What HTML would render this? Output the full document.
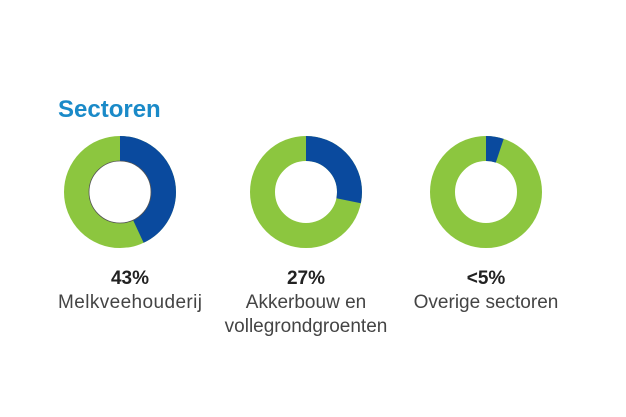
<!DOCTYPE html>
<html><head><meta charset="utf-8"><style>
body{margin:0;background:#fff;width:626px;height:417px;overflow:hidden;font-family:"Liberation Sans",sans-serif;}
svg{position:absolute;left:0;top:0}
</style></head><body>
<svg width="626" height="417" viewBox="0 0 626 417">
<text x="58" y="117" font-family="Liberation Sans, sans-serif" font-weight="bold" font-size="24" fill="#1a8ac8">Sectoren</text>
<g fill="none" stroke-width="25">
 <circle cx="120" cy="192" r="43.5" stroke="#8cc63f"/>
 <circle cx="120" cy="192" r="43.5" stroke="#0a4a9e" stroke-dasharray="117.5 400" transform="rotate(-90 120 192)"/>
 <circle cx="120" cy="192" r="31" stroke="#555" stroke-width="0.8"/>
 <circle cx="306" cy="192" r="43.5" stroke="#8cc63f"/>
 <circle cx="306" cy="192" r="43.5" stroke="#0a4a9e" stroke-dasharray="77 400" transform="rotate(-90 306 192)"/>
 <circle cx="486" cy="192" r="43.5" stroke="#8cc63f"/>
 <circle cx="486" cy="192" r="43.5" stroke="#0a4a9e" stroke-dasharray="14 400" transform="rotate(-90 486 192)"/>
</g>
<g font-family="Liberation Sans, sans-serif" text-anchor="middle" fill="#222">
 <text x="130" y="284" font-size="19" font-weight="bold">43%</text>
 <text x="130" y="308" font-size="19" fill="#444" textLength="144">Melkveehouderij</text>
 <text x="306" y="284" font-size="19" font-weight="bold">27%</text>
 <text x="306" y="308" font-size="19" fill="#444">Akkerbouw en</text>
 <text x="306" y="332" font-size="19" fill="#444">vollegrondgroenten</text>
 <text x="486" y="284" font-size="19" font-weight="bold">&lt;5%</text>
 <text x="486" y="308" font-size="19" fill="#444">Overige sectoren</text>
</g>
</svg>
</body></html>
